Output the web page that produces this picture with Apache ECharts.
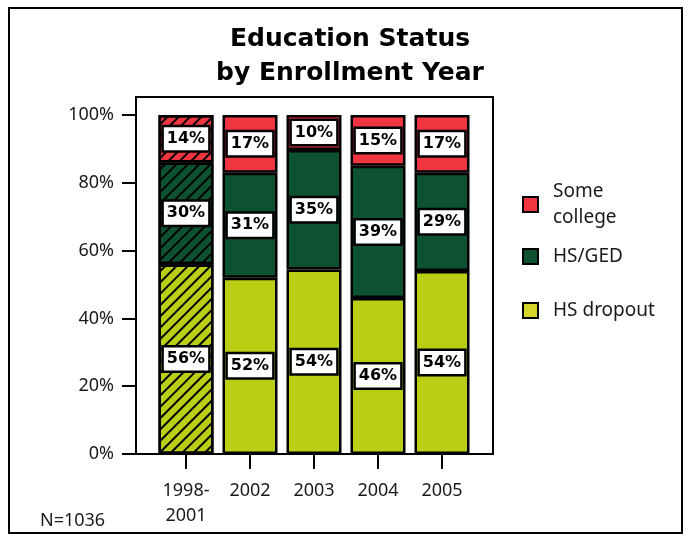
<!DOCTYPE html>
<html><head><meta charset="utf-8">
<script src="https://cdn.jsdelivr.net/npm/echarts@6/dist/echarts.min.js"></script>
<style>html,body{margin:0;padding:0;background:#fff}#c{width:688px;height:542px}</style>
</head><body><div id="c"></div>
<script>
const categories = ['1998-\n2001', '2002', '2003', '2004', '2005'];
const hsDropout = [56, 52, 54.4, 46, 54];
const hsGed = [30, 31, 35.3, 39, 29];
const someCollege = [14, 17, 10.3, 15, 17];
const seriesNames = ['HS dropout', 'HS/GED', 'Some college'];
const titleText = 'Education Status\nby Enrollment Year';
const noteText = 'N=1036';

const colors = { 'HS dropout': '#BBCE16', 'HS/GED': '#0D5230', 'Some college': '#EF3540' };
const legendColors = { 'HS dropout': '#D6D62A', 'HS/GED': '#0D5230', 'Some college': '#EF3540' };
const hatch = { symbol: 'rect', symbolSize: 1, color: '#000', dashArrayX: [1, 0], dashArrayY: [2, 6], rotation: -Math.PI / 4 };

function withHatch(arr) {
  return arr.map((v, i) => i === 0 ? { value: v, itemStyle: { decal: hatch } } : v);
}
const seriesData = [hsDropout, hsGed, someCollege];

const chart = echarts.init(document.getElementById('c'), null, { renderer: 'canvas' });
const legendTops = [297.5, 243.5, 178.5];
chart.setOption({
  animation: false,
  title: {
    text: titleText, left: 350, top: 22, padding: 0, textAlign: 'center',
    textStyle: { fontFamily: 'DejaVu Sans', fontWeight: 'bold', fontSize: 25, lineHeight: 34, color: '#000' }
  },
  legend: seriesNames.map((n, i) => ({
    data: [{ name: n, itemStyle: { color: legendColors[n] } }],
    left: 522, top: legendTops[i], padding: 0, orient: 'vertical',
    itemWidth: 15, itemHeight: 15, icon: 'rect',
    formatter: name => name === 'Some college' ? 'Some\ncollege' : name,
    textStyle: { fontFamily: 'Noto Sans', fontSize: 19, lineHeight: 26, color: '#1a1a1a', padding: [0, 0, 0, 10] }
  })),
  grid: { left: 154, right: 214, top: 115, bottom: 88 },
  xAxis: {
    type: 'category', data: categories,
    axisLine: { show: true, lineStyle: { color: '#000', width: 2 } },
    axisTick: { show: true, alignWithLabel: true, length: 15, lineStyle: { color: '#000', width: 2 } },
    axisLabel: { margin: 24, fontFamily: 'Noto Sans', fontSize: 18, lineHeight: 25, color: '#1a1a1a' }
  },
  yAxis: {
    type: 'value', min: 0, max: 100, interval: 20, offset: 18,
    splitLine: { show: false },
    axisLine: { show: true, lineStyle: { color: '#000', width: 2 } },
    axisTick: { show: true, length: 14, lineStyle: { color: '#000', width: 2 } },
    axisLabel: { formatter: '{value}%', margin: 22, fontFamily: 'Noto Sans', fontSize: 18, color: '#1a1a1a' }
  },
  series: seriesNames.map((n, i) => ({
    name: n, type: 'bar', stack: 'total', barWidth: 55,
    data: withHatch(seriesData[i]),
    itemStyle: { color: colors[n], borderColor: '#000', borderWidth: 2.5 },
    label: {
      show: true, position: 'inside',
      formatter: p => Math.round(p.value) + '%',
      fontFamily: 'DejaVu Sans', fontWeight: 'bold', fontSize: 16, color: '#000',
      backgroundColor: '#fff', borderColor: '#000', borderWidth: 2.5, padding: [4, 3, 3, 3]
    }
  })),
  graphic: [
    { type: 'rect', shape: { x: 136, y: 97, width: 357, height: 357 }, style: { fill: 'none', stroke: '#000', lineWidth: 2 }, z: 50, silent: true },
    { type: 'rect', shape: { x: 9, y: 8, width: 673, height: 525 }, style: { fill: 'none', stroke: '#000', lineWidth: 2 }, z: 50, silent: true },
    { type: 'text', x: 40, y: 521, style: { text: noteText, font: '18px "Noto Sans"', fill: '#1a1a1a', verticalAlign: 'middle' }, silent: true }
  ]
});
</script>
</body></html>
